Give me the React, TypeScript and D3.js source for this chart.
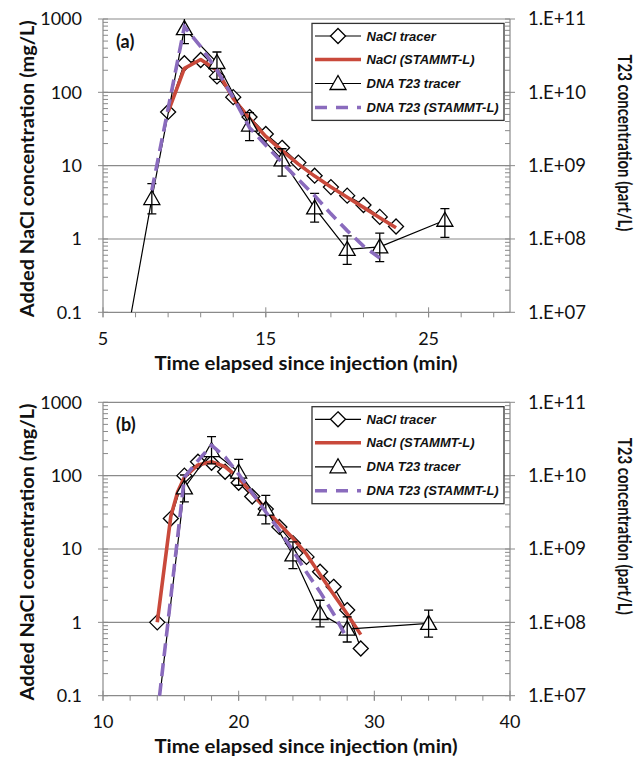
import React from 'react';
import * as d3 from 'd3';

const W = 636;
const H = 760;
const PLOT_L = 103;
const PLOT_R = 510;

// ---------- Panel (a) ----------
const naclTracerTimeA = [9, 10, 11, 12, 13, 14, 15, 16, 17, 18, 19, 20, 21, 22, 23];
const naclTracerA = [54, 249, 276, 165, 86, 46, 27, 17.5, 11, 7.3, 5.1, 3.9, 2.9, 2.0, 1.48];
const naclModelTimeA = [9, 10, 11, 12, 13, 14, 15, 16, 17, 18, 19, 20, 21, 22, 23];
const naclModelA = [54, 212, 280, 200, 82, 44, 25, 16, 10.5, 7.2, 5.1, 3.7, 2.7, 1.95, 1.42];
const dnaTracerTimeA = [6, 8, 10, 12, 14, 16, 18, 20, 22, 26];
const dnaTracerA = [1.2e6, 3.56e8, 7.4e10, 2.55e10, 3.58e9, 1.2e9, 2.65e8, 7.2e7, 7.8e7, 1.8e8];
const dnaTracerLowA = [NaN, 2.2e8, 4.62e10, 1.5e10, 2.2e9, 7.2e8, 1.7e8, 4.5e7, 4.9e7, 1.05e8];
const dnaTracerHighA = [NaN, 5.7e8, 1.18e11, 3.55e10, 5.3e9, 1.7e9, 4.2e8, 1.1e8, 1.2e8, 2.6e8];
const dnaModelTimeA = [8, 9, 10, 11, 12, 13, 14, 15, 16, 17, 18, 19, 20, 21, 22];
const dnaModelA = [4.6e8, 6e9, 7.85e10, 4.2e10, 2e10, 8.5e9, 3.3e9, 1.9e9, 1.1e9, 6.5e8, 3.9e8, 2.2e8, 1.3e8, 8e7, 5.5e7];
const xTicksA = [5, 15, 25];

// ---------- Panel (b) ----------
const naclTracerTimeB = [14, 15, 16, 17, 18, 19, 20, 21, 22, 23, 24, 25, 26, 27, 28, 29];
const naclTracerB = [1.0, 26, 100, 155, 150, 113, 80, 52, 35, 20, 12, 7.8, 4.9, 3.05, 1.47, 0.44];
const naclModelTimeB = [14, 15, 15.5, 16, 17, 18, 19, 20, 21, 22, 23, 24, 25, 26, 27, 28, 29];
const naclModelB = [1.0, 28, 60, 95, 140, 155, 132, 93, 57, 35, 22, 14, 8.5, 4.5, 2.4, 1.3, 0.68];
const dnaTracerTimeB = [14, 16, 18, 20, 22, 24, 26, 28, 34];
const dnaTracerB = [5e6, 6.8e9, 2.2e10, 1.12e10, 3.5e9, 8.3e8, 1.32e8, 8.1e7, 9.7e7];
const dnaTracerLowB = [NaN, 4.4e9, 1.45e10, 7.4e9, 2.2e9, 5.4e8, 8.7e7, 5.4e7, 6.3e7];
const dnaTracerHighB = [NaN, 1.02e10, 3.4e10, 1.67e10, 5.4e9, 1.25e9, 2.0e8, 1.19e8, 1.47e8];
const dnaModelTimeB = [14, 15, 16, 17, 18, 19, 20, 21, 22, 23, 24, 25, 26, 27, 28];
const dnaModelB = [5.3e6, 2.2e8, 9.5e9, 1.6e10, 2.6e10, 1.8e10, 1.05e10, 5.8e9, 3.2e9, 1.8e9, 9.5e8, 4.8e8, 2.6e8, 1.3e8, 6e7];
const xTicksB = [10, 20, 30, 40];

// ---------- Axis labels ----------
const yTicksLeft = [0.1, 1, 10, 100, 1000];
const yTickLabelsLeft = ['0.1', '1', '10', '100', '1000'];
const yTicksRight = [1e7, 1e8, 1e9, 1e10, 1e11];
const yTickLabelsRight = ['1.E+07', '1.E+08', '1.E+09', '1.E+10', '1.E+11'];
const legendLabels = ['NaCl tracer', 'NaCl (STAMMT-L)', 'DNA T23 tracer', 'DNA T23 (STAMMT-L)'];

const RED = '#c9493b';
const PURPLE = '#8a6bbd';
const GRID = '#8a8a8a';
const TICK_FONT = 'Lato, Carlito, Calibri, sans-serif';
const LEG_FONT = '"Liberation Sans", Arial, sans-serif';

const diamondPath = 'M0,-7.5L7.5,0L0,7.5L-7.5,0Z';
const trianglePath = 'M0,-8L8,6L-8,6Z';

type PanelProps = {
  id: string;
  top: number;
  bottom: number;
  xDomain: [number, number];
  xTicks: number[];
  label: string;
  naclT: number[];
  nacl: number[];
  modelT: number[];
  model: number[];
  dnaT: number[];
  dna: number[];
  dnaLo: number[];
  dnaHi: number[];
  dnaMT: number[];
  dnaM: number[];
};

function Panel(p: PanelProps) {
  const x = d3.scaleLinear().domain(p.xDomain).range([PLOT_L, PLOT_R]);
  const yL = d3.scaleLog().domain([0.1, 1000]).range([p.bottom, p.top]);
  const yR = d3.scaleLog().domain([1e7, 1e11]).range([p.bottom, p.top]);

  const lineL = (ts: number[], vs: number[]) =>
    d3.line<number>().x((_, i) => x(ts[i])).y((v) => yL(v))(vs) || '';
  const lineR = (ts: number[], vs: number[]) =>
    d3.line<number>().x((_, i) => x(ts[i])).y((v) => yR(v))(vs) || '';

  const minorLeft: number[] = [];
  [0.1, 1, 10, 100].forEach((d) => {
    for (let k = 2; k <= 9; k++) minorLeft.push(k * d);
  });
  const minorRight: number[] = [];
  [1e7, 1e8, 1e9, 1e10].forEach((d) => {
    for (let k = 2; k <= 9; k++) minorRight.push(k * d);
  });
  const xMinor = d3.range(p.xDomain[0], p.xDomain[1] + 0.001, 2);

  const inRangeL = (v: number) => v >= 0.1 && v <= 1000;
  const inRangeR = (v: number) => v >= 1e7 && v <= 1.2e11;
  const clip = `url(#clip-${p.id})`;
  const midY = (p.top + p.bottom) / 2;

  const legX = 312;
  const legY = p.top + 4.4;
  const rows = [17, 40.5, 64.5, 88.5];

  return (
    <g>
      <defs>
        <clipPath id={`clip-${p.id}`}>
          <rect x={PLOT_L} y={p.top} width={PLOT_R - PLOT_L} height={p.bottom - p.top} />
        </clipPath>
      </defs>
      {/* gridlines */}
      {[1, 10, 100, 1000].map((v) => (
        <line key={v} x1={PLOT_L} x2={PLOT_R} y1={yL(v)} y2={yL(v)} stroke={GRID} strokeWidth={1.2} />
      ))}
      {/* axes lines */}
      <line x1={PLOT_L} x2={PLOT_L} y1={p.top} y2={p.bottom} stroke={GRID} strokeWidth={1.2} />
      <line x1={PLOT_R} x2={PLOT_R} y1={p.top} y2={p.bottom} stroke={GRID} strokeWidth={1.2} />
      <line x1={PLOT_L} x2={PLOT_R} y1={p.bottom} y2={p.bottom} stroke={GRID} strokeWidth={1.2} />
      {/* left ticks */}
      {minorLeft.map((v) => (
        <line key={'ml' + v} x1={PLOT_L} x2={PLOT_L + 5} y1={yL(v)} y2={yL(v)} stroke={GRID} strokeWidth={1} />
      ))}
      {yTicksLeft.map((v) => (
        <line key={'Ml' + v} x1={PLOT_L - 5} x2={PLOT_L + 5} y1={yL(v)} y2={yL(v)} stroke={GRID} strokeWidth={1} />
      ))}
      {/* right ticks */}
      {minorRight.map((v) => (
        <line key={'mr' + v} x1={PLOT_R - 5} x2={PLOT_R} y1={yR(v)} y2={yR(v)} stroke={GRID} strokeWidth={1} />
      ))}
      {yTicksRight.map((v) => (
        <line key={'Mr' + v} x1={PLOT_R - 5} x2={PLOT_R + 5} y1={yR(v)} y2={yR(v)} stroke={GRID} strokeWidth={1} />
      ))}
      {/* x ticks */}
      {xMinor.map((t) => (
        <line key={'xm' + t} x1={x(t)} x2={x(t)} y1={p.bottom} y2={p.bottom + 5} stroke={GRID} strokeWidth={1} />
      ))}
      {p.xTicks.map((t) => (
        <line key={'xM' + t} x1={x(t)} x2={x(t)} y1={p.bottom - 5} y2={p.bottom + 5} stroke={GRID} strokeWidth={1} />
      ))}
      {/* tick labels */}
      {yTicksLeft.map((v, i) => (
        <text key={'yl' + v} x={82} y={yL(v) + 6.3} textAnchor="end" fontFamily={TICK_FONT} fontSize={18} fill="#111">
          {yTickLabelsLeft[i]}
        </text>
      ))}
      {yTicksRight.map((v, i) => (
        <text key={'yr' + v} x={528} y={yR(v) + 6.3} textAnchor="start" fontFamily={TICK_FONT} fontSize={18.5} fill="#111">
          {yTickLabelsRight[i]}
        </text>
      ))}
      {p.xTicks.map((t) => (
        <text key={'xl' + t} x={x(t)} y={p.bottom + 32.5} textAnchor="middle" fontFamily={TICK_FONT} fontSize={18} fill="#111">
          {t}
        </text>
      ))}
      {/* titles */}
      <text x={306} y={p.bottom + 57.5} textAnchor="middle" fontFamily={TICK_FONT} fontWeight="bold" fontSize={18.5} fill="#111" textLength={303} lengthAdjust="spacingAndGlyphs">
        Time elapsed since injection (min)
      </text>
      <text transform={`translate(34,${midY + 3}) rotate(-90)`} textAnchor="middle" fontFamily={TICK_FONT} fontWeight="bold" fontSize={18.5} fill="#111" textLength={297} lengthAdjust="spacingAndGlyphs">
        Added NaCl concentration (mg/L)
      </text>
      <text transform={`translate(618,${p.top + 124}) rotate(90)`} textAnchor="middle" fontFamily={TICK_FONT} fontWeight="bold" fontSize={18} fill="#111" textLength={177} lengthAdjust="spacingAndGlyphs">
        T23 concentration (part/L)
      </text>
      <text x={116} y={p.top + 28.5} fontFamily={TICK_FONT} fontWeight="bold" fontSize={18} fill="#111">
        {p.label}
      </text>

      {/* NaCl tracer */}
      <path d={lineL(p.naclT, p.nacl)} fill="none" stroke="#000" strokeWidth={1.2} clipPath={clip} />
      {p.naclT.map((t, i) =>
        inRangeL(p.nacl[i]) ? (
          <path key={'d' + t} d={diamondPath} transform={`translate(${x(t)},${yL(p.nacl[i])})`} fill="#fff" stroke="#000" strokeWidth={1.3} />
        ) : null
      )}
      {/* NaCl model */}
      <path d={lineL(p.modelT, p.model)} fill="none" stroke={RED} strokeWidth={3.6} strokeLinejoin="round" clipPath={clip} />
      {/* DNA tracer */}
      <path d={lineR(p.dnaT, p.dna)} fill="none" stroke="#000" strokeWidth={1.2} clipPath={clip} />
      {p.dnaT.map((t, i) =>
        inRangeR(p.dna[i]) ? (
          <path key={'t' + t} d={trianglePath} transform={`translate(${x(t)},${yR(p.dna[i])})`} fill="#fff" stroke="#000" strokeWidth={1.3} />
        ) : null
      )}
      <g clipPath={clip}>
        {p.dnaT.map((t, i) =>
          isNaN(p.dnaLo[i]) ? null : (
            <g key={'e' + t} stroke="#000" strokeWidth={1.3}>
              <line x1={x(t)} x2={x(t)} y1={yR(p.dnaLo[i])} y2={yR(p.dnaHi[i])} />
              <line x1={x(t) - 4.5} x2={x(t) + 4.5} y1={yR(p.dnaLo[i])} y2={yR(p.dnaLo[i])} />
              <line x1={x(t) - 4.5} x2={x(t) + 4.5} y1={yR(p.dnaHi[i])} y2={yR(p.dnaHi[i])} />
            </g>
          )
        )}
      </g>
      {/* DNA model */}
      <path d={lineR(p.dnaMT, p.dnaM)} fill="none" stroke={PURPLE} strokeWidth={3.6} strokeDasharray="13,7" clipPath={clip} />

      {/* legend */}
      <rect x={legX} y={legY} width={192} height={97} fill="#fff" stroke="#333" strokeWidth={1.3} />
      {rows.map((r, i) => {
        const yy = p.top + r;
        const x1 = 315;
        const x2 = 361;
        const cx = 338;
        return (
          <g key={'lg' + i}>
            {i === 0 && (
              <g>
                <line x1={x1} x2={x2} y1={yy} y2={yy} stroke="#000" strokeWidth={1.2} />
                <path d={diamondPath} transform={`translate(${cx},${yy})`} fill="#fff" stroke="#000" strokeWidth={1.3} />
              </g>
            )}
            {i === 1 && <line x1={x1} x2={x2} y1={yy} y2={yy} stroke={RED} strokeWidth={3.6} />}
            {i === 2 && (
              <g>
                <line x1={x1} x2={x2} y1={yy} y2={yy} stroke="#000" strokeWidth={1.2} />
                <path d={trianglePath} transform={`translate(${cx},${yy})`} fill="#fff" stroke="#000" strokeWidth={1.3} />
              </g>
            )}
            {i === 3 && (
              <line x1={x1} x2={x2} y1={yy} y2={yy} stroke={PURPLE} strokeWidth={3.6} strokeDasharray="12,9" />
            )}
            <text x={366.5} y={yy + 4.6} fontFamily={LEG_FONT} fontWeight="bold" fontStyle="italic" fontSize={13} fill="#111">
              {legendLabels[i]}
            </text>
          </g>
        );
      })}
    </g>
  );
}

export default function App() {
  return (
    <svg width={W} height={H} style={{ position: 'absolute', left: 0, top: 0, background: '#fff' }}>
      <rect x={0} y={0} width={W} height={H} fill="#fff" />
      <Panel
        id="a"
        top={19}
        bottom={312.3}
        xDomain={[5, 30]}
        xTicks={xTicksA}
        label="(a)"
        naclT={naclTracerTimeA}
        nacl={naclTracerA}
        modelT={naclModelTimeA}
        model={naclModelA}
        dnaT={dnaTracerTimeA}
        dna={dnaTracerA}
        dnaLo={dnaTracerLowA}
        dnaHi={dnaTracerHighA}
        dnaMT={dnaModelTimeA}
        dnaM={dnaModelA}
      />
      <Panel
        id="b"
        top={402.3}
        bottom={695.7}
        xDomain={[10, 40]}
        xTicks={xTicksB}
        label="(b)"
        naclT={naclTracerTimeB}
        nacl={naclTracerB}
        modelT={naclModelTimeB}
        model={naclModelB}
        dnaT={dnaTracerTimeB}
        dna={dnaTracerB}
        dnaLo={dnaTracerLowB}
        dnaHi={dnaTracerHighB}
        dnaMT={dnaModelTimeB}
        dnaM={dnaModelB}
      />
    </svg>
  );
}
